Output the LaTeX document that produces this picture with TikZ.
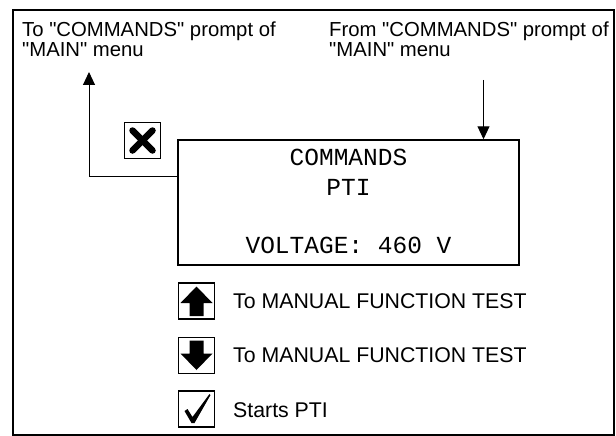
\documentclass[tikz,border=0pt]{standalone}
\usepackage{fontspec}
\newfontfamily\labf{Liberation Sans}
\newfontfamily\monof{Liberation Mono}
\usetikzlibrary{arrows.meta}
\begin{document}
\begin{tikzpicture}[x=1pt,y=-1pt,
  lbl/.style={anchor=base west,inner sep=0pt,font=\labf\fontsize{20.3}{20}\selectfont},
  item/.style={anchor=base west,inner sep=0pt,font=\labf\fontsize{21.3}{22}\selectfont},
  scr/.style={anchor=base,inner sep=0pt,font=\monof\fontsize{24.5}{24.5}\selectfont},
  iconbox/.style={draw,line width=1.5pt,minimum width=36pt,minimum height=36pt,inner sep=0pt},
  conn/.style={line width=1pt,-{Triangle[length=13pt,width=12pt]}}]
\useasboundingbox (0,0) rectangle (616,436);
\draw[line width=1.5pt] (13,10) rectangle (614,435);
% labels
\node[lbl] (to1) at (22,37) {To "COMMANDS" prompt of};
\node[lbl] (to2) at (22,57) {"MAIN" menu};
\node[lbl] (fr1) at (329,37) {From "COMMANDS" prompt of};
\node[lbl] (fr2) at (329,57) {"MAIN" menu};
% screen
\node[draw,line width=1.5pt,minimum width=341pt,minimum height=125pt,inner sep=0pt] (screen) at (348.5,202.5) {};
\node[scr] (l1) at (348.5,165) {COMMANDS};
\node[scr] (l2) at (348.5,195) {PTI};
\node[scr] (l3) at (348.5,253) {VOLTAGE: 460 V};
% connectors
\coordinate (inTop) at (483.5,80);
\draw[conn] (inTop) -- (inTop |- screen.north);
\coordinate (outTip) at (89,72);
\coordinate (outCorner) at (89,176);
\draw[conn] (screen.west |- outCorner) -- (outCorner) -- (outTip);
% X icon
\node[iconbox] (xbox) at (142.5,140.5) {};
\draw[line width=6.5pt,line cap=round] ([shift={(-10,-10)}]xbox.center) -- ([shift={(10,10)}]xbox.center);
\draw[line width=6.5pt,line cap=round] ([shift={(10,-10)}]xbox.center) -- ([shift={(-10,10)}]xbox.center);
% up icon
\node[iconbox] (upbox) at (196.5,301) {};
\fill ([shift={(0,-14.5)}]upbox.center) -- ([shift={(16,2)}]upbox.center) -- ([shift={(7,2)}]upbox.center) -- ([shift={(7,15)}]upbox.center) -- ([shift={(-7,15)}]upbox.center) -- ([shift={(-7,2)}]upbox.center) -- ([shift={(-16,2)}]upbox.center) -- cycle;
\node[item] (t1) at (233,308) {To MANUAL FUNCTION TEST};
% down icon
\node[iconbox] (dnbox) at (196.5,355.5) {};
\fill ([shift={(0,14.5)}]dnbox.center) -- ([shift={(16,-2)}]dnbox.center) -- ([shift={(7,-2)}]dnbox.center) -- ([shift={(7,-15)}]dnbox.center) -- ([shift={(-7,-15)}]dnbox.center) -- ([shift={(-7,-2)}]dnbox.center) -- ([shift={(-16,-2)}]dnbox.center) -- cycle;
\node[item] (t2) at (233,362) {To MANUAL FUNCTION TEST};
% check icon
\node[iconbox] (ckbox) at (196.5,409) {};
\fill ([shift={(-12,2)}]ckbox.center) -- ([shift={(-9,0)}]ckbox.center) -- ([shift={(-4,8)}]ckbox.center) -- ([shift={(13,-15)}]ckbox.center) -- ([shift={(14,-14)}]ckbox.center) -- ([shift={(-2,14)}]ckbox.center) -- ([shift={(-5,14)}]ckbox.center) -- cycle;
\node[item] (t3) at (233,417) {Starts PTI};
\end{tikzpicture}
\end{document}
